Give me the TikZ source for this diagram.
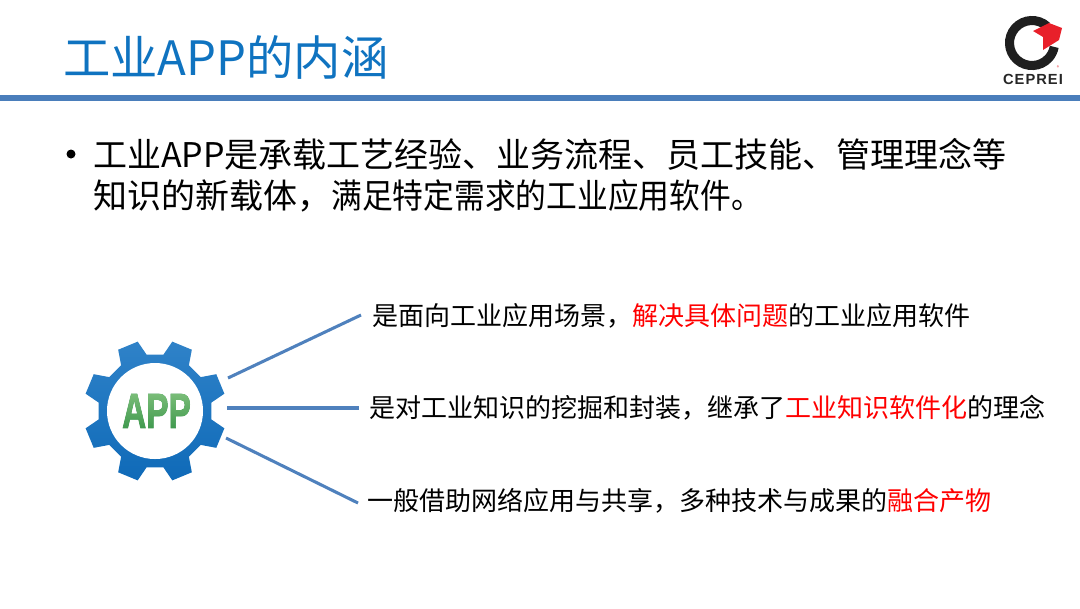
\documentclass[tikz,border=0pt]{standalone}
\usepackage{fontspec}
\setmainfont{Noto Sans CJK SC}
\newfontfamily\logofont[LetterSpace=7]{Liberation Sans}
\newfontfamily\appfont[BoldFeatures={FakeBold=1.6}]{Liberation Sans}
\definecolor{barblue}{HTML}{4A7EBB}
\definecolor{titleblue}{HTML}{0F73C0}
\definecolor{gearup}{HTML}{2F82C8}
\definecolor{geardown}{HTML}{0F6AB8}
\definecolor{lineblue}{HTML}{4F81BD}
\definecolor{logored}{HTML}{E8202A}
\definecolor{appgreen}{HTML}{3A964A}
\definecolor{applight}{HTML}{7FC07C}
\tikzset{
 itemtext/.style={anchor=west,inner sep=0pt,font=\fontsize{19.5pt}{24pt}\selectfont},
 bodytext/.style={anchor=west,inner sep=0pt,font=\fontsize{25.5pt}{31pt}\selectfont},
 spoke/.style={draw=lineblue,line width=2.3pt}
}
\newcommand{\hot}[1]{\textcolor{red}{#1}}
\begin{document}
\begin{tikzpicture}[x=.75pt,y=-.75pt]
 \useasboundingbox (0,0) rectangle (1080,608);
 % title and bar
 \node[anchor=west,inner sep=0pt,text=titleblue,font=\fontsize{35.5pt}{40pt}\selectfont] (title) at (63,57) {工业APP的内涵};
 \fill[barblue] (0,95) rectangle (1080,101);
 % logo
 \draw[line width=6.8pt,black!88] (1032,43)++(-48:22.5) arc[start angle=-48,end angle=-350,radius=22.5];
 \fill[logored] (1033,31)--(1049,23)--(1062,28)--(1059,40)--(1043,50)--(1043,37)--cycle;
 \node[inner sep=0pt,text=black!85,font=\logofont\bfseries\fontsize{11pt}{12pt}\selectfont] (logo) at (1033,79) {CEPREI};
 \node[inner sep=0pt,text=logored,font=\fontsize{3.5pt}{4pt}\selectfont] (reg) at (1058,68) {®};
 % bullet text
 \fill (71,154) circle (4.5);
 \node[bodytext] (bodya) at (93,154) {工业APP是承载工艺经验、业务流程、员工技能、管理理念等};
 \node[bodytext] (bodyb) at (93,196) {知识的新载体，\scalebox{.905}[1]{满足特定需求的工业应用软件。}};
 % gear
 \coordinate (gear) at (155,411);
 \begin{scope}[shift={(155,411)}]
  \shade[top color=gearup,bottom color=geardown] (8.5:57)
   \foreach \a in {22.5,67.5,...,360}{
    -- (\a-14:57) -- (\a-8.5:71.5) -- (\a+8.5:71.5) -- (\a+14:57)
   } -- cycle;
  \fill[white] (0,0) circle (48);
 \end{scope}
 \node[inner sep=0pt,text=appgreen] (app) at (156.5,411) {\scalebox{.76}[1.12]{\fontsize{33pt}{36pt}\appfont\bfseries APP}};
 \shade[top color=applight,bottom color=appgreen,blend mode=lighten] (118,390) rectangle (194,432);
 % items
 \node[itemtext] (itema) at (372,316) {是面向工业应用场景，\hot{解决具体问题}的工业应用软件};
 \node[itemtext] (itemb) at (369,408) {是对工业知识的挖掘和封装，继承了\hot{工业知识软件化}的理念};
 \node[itemtext] (itemc) at (367,501) {一般借助网络应用与共享，多种技术与成果的\hot{融合产物}};
 \coordinate (geara) at (228,378);
 \coordinate (gearb) at (227,408);
 \coordinate (gearc) at (226,438);
 \coordinate (enda) at (361,315);
 \coordinate (endb) at (359,408);
 \coordinate (endc) at (358,503);
 \draw[spoke] (geara)--(enda);
 \draw[spoke] (gearb)--(endb);
 \draw[spoke] (gearc)--(endc);
\end{tikzpicture}
\end{document}
